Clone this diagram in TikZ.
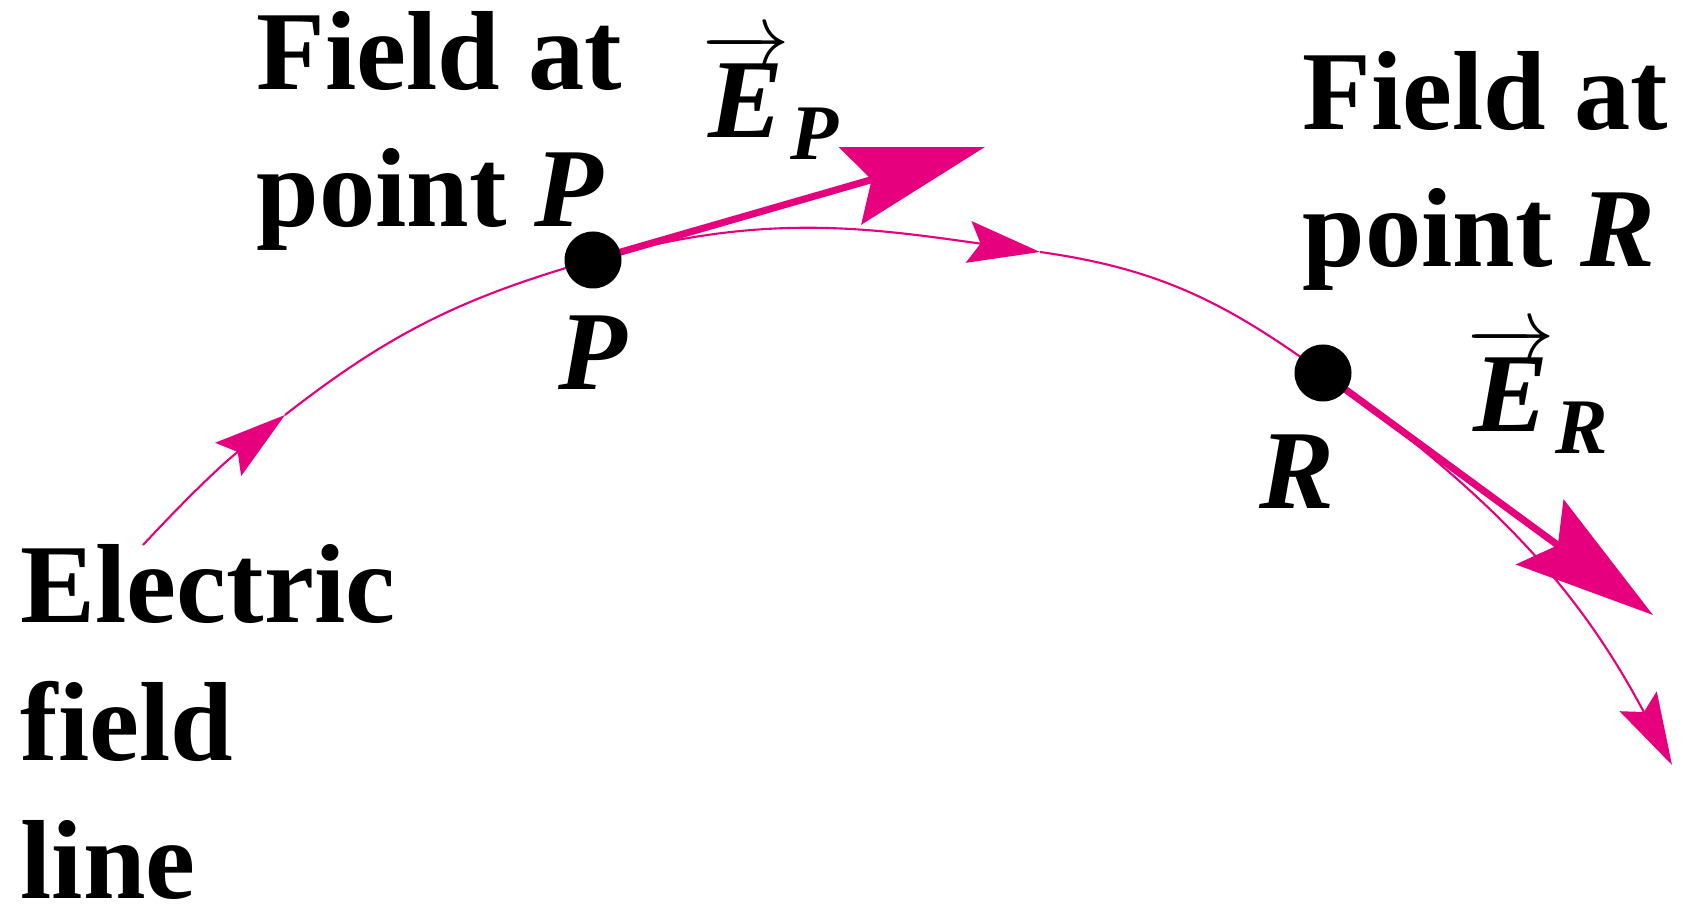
\documentclass[tikz,border=0pt]{standalone}
\usepackage{amsmath}
\usepackage{fontspec}
\setmainfont{Liberation Serif}
\usetikzlibrary{arrows.meta}
\pgfdeclarelayer{bg}
\pgfsetlayers{bg, main}
\definecolor{fieldpink}{RGB}{230,0,126}

\tikzset{
    fieldline/.style={fieldpink, line width=0.6pt},
    flowtip/.style={-{Stealth[length=0.72cm, width=0.42cm, inset=0.12cm]}},
    fieldvec/.style={fieldpink, line width=2pt, -{Stealth[length=1.4cm, width=0.8cm, inset=0.22cm]}},
    pointdot/.style={circle, fill=black, inner sep=0pt, minimum size=0.57cm},
    bigtext/.style={font=\fontsize{32}{39.2}\selectfont\bfseries, inner sep=0pt}
}

\begin{document}
\begin{tikzpicture}
        \useasboundingbox (0,0) rectangle (16.91,9.06);

        %points P and R
        \node[pointdot] (P) at (5.93,6.46) {};
        \node[pointdot] (R) at (13.23,5.33) {};

        %ends of the line, arrow tips
        \coordinate (start) at (1.43,3.61);
        \coordinate (flowA) at (2.85,4.91);
        \coordinate (flowB) at (10.40,6.54);
        \coordinate (finish) at (16.72,1.41);
        \coordinate (EPtip) at (9.85,7.59);
        \coordinate (ERtip) at (16.53,2.91);

        %field line and field vectors
        \begin{pgfonlayer}{bg}
            \draw[fieldline, flowtip] (start) to[out=47, in=218] (flowA);
            \draw[fieldline, flowtip] (flowA) to[out=38, in=196] (P.center) to[out=16, in=172] (flowB);
            \draw[fieldline, flowtip] (flowB) to[out=-8, in=144] (R.center) to[out=-36, in=118] (finish);
            \draw[fieldvec] (P.center) -- (EPtip);
            \draw[fieldvec] (R.center) -- (ERtip);
        \end{pgfonlayer}

        %labels (base = last line)
        \node[bigtext, anchor=base west, align=left] (fieldP) at (2.56,6.79) {Field at\\point \textit{P}};
        \node[bigtext, anchor=base west, align=left] (fieldR) at (13.02,6.39) {Field at\\point \textit{R}};
        \node[bigtext, anchor=base west, align=left] (lineText) at (0.20,0.08) {Electric\\field\\line};
        \node[bigtext, anchor=base] (Plabel) at (5.93,5.16) {\textit{P}};
        \node[bigtext, anchor=base] (Rlabel) at (12.97,3.97) {\textit{R}};
        \node[bigtext, anchor=base west] (EP) at (7.02,7.68) {$\overrightarrow{\text{\textit{E}}}_{\text{\textit{P}}}$};
        \node[bigtext, anchor=base west] (ER) at (14.67,4.74) {$\overrightarrow{\text{\textit{E}}}_{\text{\textit{R}}}$};

\end{tikzpicture}
\end{document}
